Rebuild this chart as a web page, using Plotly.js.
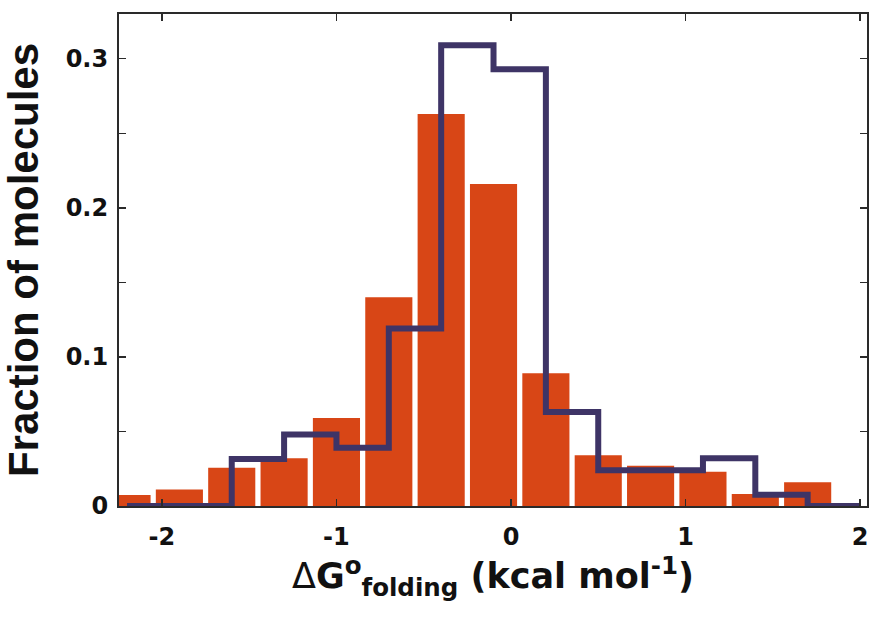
<!DOCTYPE html>
<html>
<head>
<meta charset="utf-8">
<script src="https://cdn.plot.ly/plotly-3.0.1.min.js"></script>
<style>body{margin:0;padding:0;background:#fff;}#chart{width:870px;height:617px;}</style>
</head>
<body>
<div id="chart"></div>
<script>
// Bar histogram (bin centres, fraction of molecules)
const barCenters = [-2.2, -1.9, -1.6, -1.3, -1.0, -0.7, -0.4, -0.1, 0.2, 0.5, 0.8, 1.1, 1.4, 1.7];
const barValues  = [0.0074, 0.011, 0.0256, 0.032, 0.059, 0.140, 0.263, 0.216, 0.089, 0.034, 0.027, 0.023, 0.008, 0.016];

// Step histogram (left bin edges, fraction of molecules)
const stepLeftEdges = [-2.2, -1.9, -1.6, -1.3, -1.0, -0.7, -0.4, -0.1, 0.2, 0.5, 0.8, 1.1, 1.4, 1.7];
const stepValues    = [0, 0, 0.0316, 0.048, 0.039, 0.119, 0.309, 0.293, 0.063, 0.024, 0.024, 0.032, 0.0075, 0];
const stepBinWidth = 0.3;

const xTickVals = [-2, -1, 0, 1, 2];
const xTickText = ['-2', '-1', '0', '1', '2'];
const yTickVals = [0, 0.1, 0.2, 0.3];
const yTickText = ['0', '0.1', '0.2', '0.3'];

const stepX = stepLeftEdges.concat([stepLeftEdges[stepLeftEdges.length - 1] + stepBinWidth]);
const stepY = stepValues.concat([stepValues[stepValues.length - 1]]);

const axisColor = '#2a2a2a';
const tickFont = {family: 'DejaVu Sans, sans-serif', size: 24, color: '#111', weight: 'bold'};

const data = [
  {
    type: 'bar',
    x: barCenters,
    y: barValues,
    marker: {color: '#d84616', line: {width: 0}},
    hoverinfo: 'skip'
  },
  {
    type: 'scatter',
    mode: 'lines',
    x: stepX,
    y: stepY,
    line: {shape: 'hv', color: '#3e3466', width: 6},
    hoverinfo: 'skip'
  }
];

const layout = {
  width: 870,
  height: 617,
  margin: {l: 119, r: 3, t: 14, b: 111},
  paper_bgcolor: '#ffffff',
  plot_bgcolor: '#ffffff',
  showlegend: false,
  bargap: 0.1,
  xaxis: {
    range: [-2.246, 2.04],
    tickmode: 'array',
    tickvals: xTickVals,
    ticktext: xTickText,
    ticks: 'inside',
    ticklen: 7,
    tickwidth: 1.5,
    tickcolor: axisColor,
    showline: true,
    linecolor: axisColor,
    linewidth: 2,
    mirror: 'ticks',
    showgrid: false,
    zeroline: false,
    tickfont: tickFont,
    ticklabelstandoff: 8,
    title: {
      text: '<span style="font-weight:normal">Δ</span>G<sup>o</sup><sub>folding</sub> (kcal mol<sup>-1</sup>)',
      font: {family: 'DejaVu Sans, sans-serif', size: 35, color: '#111', weight: 'bold'},
      standoff: 10
    }
  },
  yaxis: {
    range: [0, 0.33],
    tickmode: 'array',
    tickvals: yTickVals,
    ticktext: yTickText,
    ticks: 'inside',
    ticklen: 7,
    tickwidth: 1.5,
    tickcolor: axisColor,
    minor: {dtick: 0.05, ticks: 'inside', ticklen: 7, tickwidth: 1.5, tickcolor: axisColor, showgrid: false},
    showline: true,
    linecolor: axisColor,
    linewidth: 2,
    mirror: 'ticks',
    showgrid: false,
    zeroline: false,
    tickfont: tickFont,
    ticklabelstandoff: 4,
    title: {
      text: 'Fraction of molecules',
      font: {family: 'Liberation Sans, Arial, sans-serif', size: 42, color: '#111', weight: 'bold'},
      standoff: 14
    }
  }
};

Plotly.newPlot('chart', data, layout, {staticPlot: true, displayModeBar: false});
</script>
</body>
</html>
